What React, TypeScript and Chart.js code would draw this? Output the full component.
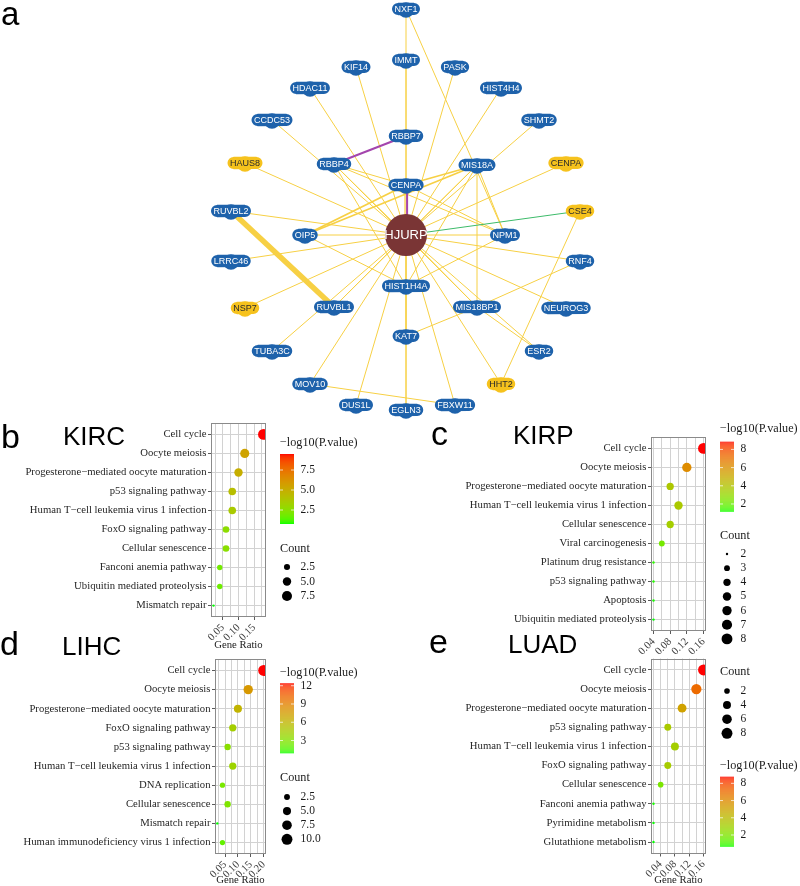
import React, { useEffect, useRef } from "react";
import { Chart, registerables } from "chart.js";
Chart.register(...registerables);

const SERIF = '"Liberation Serif", "Times New Roman", serif';
const SANS = '"Liberation Sans", Arial, sans-serif';

// ---------------- Panel a: interaction network ----------------
const netNodes = ["HJURP","NXF1","IMMT","KIF14","PASK","HDAC11","HIST4H4","CCDC53","SHMT2","RBBP7","HAUS8","RBBP4","MIS18A","CENPA_y","CENPA","RUVBL2","CSE4","OIP5","NPM1","LRRC46","RNF4","HIST1H4A","NSP7","RUVBL1","MIS18BP1","NEUROG3","KAT7","TUBA3C","ESR2","MOV10","HHT2","DUS1L","FBXW11","EGLN3"];
const netLabels = ["HJURP","NXF1","IMMT","KIF14","PASK","HDAC11","HIST4H4","CCDC53","SHMT2","RBBP7","HAUS8","RBBP4","MIS18A","CENPA","CENPA","RUVBL2","CSE4","OIP5","NPM1","LRRC46","RNF4","HIST1H4A","NSP7","RUVBL1","MIS18BP1","NEUROG3","KAT7","TUBA3C","ESR2","MOV10","HHT2","DUS1L","FBXW11","EGLN3"];
const netKinds = ["query","gene","gene","gene","gene","gene","gene","gene","gene","gene","attr","gene","gene","attr","gene","gene","attr","gene","gene","gene","gene","gene","attr","gene","gene","gene","gene","gene","gene","gene","attr","gene","gene","gene"];
// layout coordinates of the network
const netX = [406,406,406,356,455,310,501,272,539,406,245,334,477,566,406,231,580,305,505,231,580,406,245,334,477,566,406,272,539,310,501,356,455,406];
const netY = [235,9,60,67,67,88,88,120,120,136,163,164,165,163,185,211,211,235,235,261,261,286,308,307,307,308,336,351,351,384,384,405,405,410];

const hjurpLinks = ["IMMT","KIF14","PASK","HDAC11","HIST4H4","CCDC53","SHMT2","HAUS8","RBBP4","MIS18A","CENPA_y","CENPA","RUVBL2","OIP5","NPM1","LRRC46","RNF4","HIST1H4A","NSP7","RUVBL1","MIS18BP1","NEUROG3","KAT7","TUBA3C","ESR2","MOV10","HHT2","DUS1L","FBXW11","EGLN3"];
const extraA = ["NXF1","NXF1","IMMT","RBBP7","RBBP7","HJURP","HJURP","RBBP4","RBBP4","RBBP4","RBBP4","MIS18A","MIS18A","MIS18A","MIS18A","MIS18A","MIS18A","CENPA","CENPA","OIP5","RUVBL2","MOV10","HHT2","KAT7","KAT7","RNF4","ESR2","NPM1","HIST1H4A"];
const extraB = ["IMMT","NPM1","RBBP7","CENPA","RBBP4","CENPA","CSE4","CENPA","HIST1H4A","MIS18BP1","NPM1","CENPA","OIP5","MIS18BP1","HIST1H4A","RUVBL1","NPM1","OIP5","NPM1","HIST1H4A","RUVBL1","FBXW11","CSE4","MIS18BP1","EGLN3","MIS18BP1","MIS18BP1","HIST1H4A","KAT7"];
const extraKind = ["domain","domain","domain","domain","coexp","coexp","genetic","domain","domain","domain","domain","domain","domain","domain","domain","domain","domain","domain","domain","domain","domain","domain","domain","domain","domain","domain","domain","domain","domain"];
const extraWeight = [1,1,1,1,2,2,1,1,1,1,1,1.6,1.6,1,1,1,1,1.8,1,1,5.5,1,1,1,1,1,1,1,1];

// ---------------- Panel b: KIRC ----------------
const kircTerms = ["Cell cycle","Oocyte meiosis","Progesterone\u2212mediated oocyte maturation","p53 signaling pathway","Human T\u2212cell leukemia virus 1 infection","FoxO signaling pathway","Cellular senescence","Fanconi anemia pathway","Ubiquitin mediated proteolysis","Mismatch repair"];
const kircRatio = [0.18,0.12,0.10,0.08,0.08,0.06,0.06,0.04,0.04,0.02];
const kircCount = [9,6,5,4,4,3,3,2,2,1];
const kircLogP = [9.5,5.5,5.0,4.2,3.6,2.6,2.5,1.9,1.8,0.75];
const kircXMajor = [0.05,0.10,0.15];
const kircXMinor = [0.025,0.075,0.125,0.175];
const kircColorBreaks = [2.5,5.0,7.5];
const kircColorLabels = ["2.5","5.0","7.5"];
const kircSizeBreaks = [2.5,5.0,7.5];
const kircSizeLabels = ["2.5","5.0","7.5"];

// ---------------- Panel c: KIRP ----------------
const kirpTerms = ["Cell cycle","Oocyte meiosis","Progesterone\u2212mediated oocyte maturation","Human T\u2212cell leukemia virus 1 infection","Cellular senescence","Viral carcinogenesis","Platinum drug resistance","p53 signaling pathway","Apoptosis","Ubiquitin mediated proteolysis"];
const kirpRatio = [0.16,0.12,0.08,0.10,0.08,0.06,0.04,0.04,0.04,0.04];
const kirpCount = [8,6,4,5,4,3,2,2,2,2];
const kirpLogP = [8.85,6.2,3.8,3.7,3.5,2.2,1.3,1.25,1.2,1.15];
const kirpXMajor = [0.04,0.08,0.12,0.16];
const kirpXMinor = [0.06,0.10,0.14];
const kirpColorBreaks = [2,4,6,8];
const kirpColorLabels = ["2","4","6","8"];
const kirpSizeBreaks = [2,3,4,5,6,7,8];
const kirpSizeLabels = ["2","3","4","5","6","7","8"];

// ---------------- Panel d: LIHC ----------------
const lihcTerms = ["Cell cycle","Oocyte meiosis","Progesterone\u2212mediated oocyte maturation","FoxO signaling pathway","p53 signaling pathway","Human T\u2212cell leukemia virus 1 infection","DNA replication","Cellular senescence","Mismatch repair","Human immunodeficiency virus 1 infection"];
const lihcRatio = [0.20,0.14,0.10,0.08,0.06,0.08,0.04,0.06,0.02,0.04];
const lihcCount = [10,7,5,4,3,4,2,3,1,2];
const lihcLogP = [12.4,7.8,6.1,4.35,3.2,4.0,2.6,2.8,0.9,2.0];
const lihcXMajor = [0.05,0.10,0.15,0.20];
const lihcXMinor = [0.025,0.075,0.125,0.175];
const lihcColorBreaks = [3,6,9,12];
const lihcColorLabels = ["3","6","9","12"];
const lihcSizeBreaks = [2.5,5.0,7.5,10.0];
const lihcSizeLabels = ["2.5","5.0","7.5","10.0"];

// ---------------- Panel e: LUAD ----------------
const luadTerms = ["Cell cycle","Oocyte meiosis","Progesterone\u2212mediated oocyte maturation","p53 signaling pathway","Human T\u2212cell leukemia virus 1 infection","FoxO signaling pathway","Cellular senescence","Fanconi anemia pathway","Pyrimidine metabolism","Glutathione metabolism"];
const luadRatio = [0.16,0.14,0.10,0.06,0.08,0.06,0.04,0.02,0.02,0.02];
const luadCount = [8,7,5,3,4,3,2,1,1,1];
const luadLogP = [8.77,7.1,5.1,3.3,3.1,3.2,1.9,0.7,0.66,0.64];
const luadXMajor = [0.04,0.08,0.12,0.16];
const luadXMinor = [0.02,0.06,0.10,0.14];
const luadColorBreaks = [2,4,6,8];
const luadColorLabels = ["2","4","6","8"];
const luadSizeBreaks = [2,4,6,8];
const luadSizeLabels = ["2","4","6","8"];

// ---------------- colour helpers (CIELAB ramp green -> red) ----------------
function toLin(c: number) { c /= 255; return c <= 0.04045 ? c / 12.92 : Math.pow((c + 0.055) / 1.055, 2.4); }
function fromLin(c: number) { const v = c <= 0.0031308 ? 12.92 * c : 1.055 * Math.pow(Math.max(c, 0), 1 / 2.4) - 0.055; return Math.round(Math.max(0, Math.min(1, v)) * 255); }
function rgbToLab(rgb: number[]) {
  const R = toLin(rgb[0]), G = toLin(rgb[1]), B = toLin(rgb[2]);
  const X = (0.4124 * R + 0.3576 * G + 0.1805 * B) / 0.95047;
  const Y = 0.2126 * R + 0.7152 * G + 0.0722 * B;
  const Z = (0.0193 * R + 0.1192 * G + 0.9505 * B) / 1.08883;
  const f = (t: number) => (t > 0.008856 ? Math.cbrt(t) : 7.787 * t + 16 / 116);
  const fx = f(X), fy = f(Y), fz = f(Z);
  return [116 * fy - 16, 500 * (fx - fy), 200 * (fy - fz)];
}
function labToRgb(lab: number[]) {
  const fy = (lab[0] + 16) / 116, fx = fy + lab[1] / 500, fz = fy - lab[2] / 200;
  const inv = (t: number) => (t * t * t > 0.008856 ? t * t * t : (t - 16 / 116) / 7.787);
  const X = inv(fx) * 0.95047, Y = inv(fy), Z = inv(fz) * 1.08883;
  const R = 3.2406 * X - 1.5372 * Y - 0.4986 * Z;
  const G = -0.9689 * X + 1.8758 * Y + 0.0415 * Z;
  const B = 0.0557 * X - 0.204 * Y + 1.057 * Z;
  return [fromLin(R), fromLin(G), fromLin(B)];
}
const LAB_LOW = rgbToLab([0, 255, 0]);
const LAB_HIGH = rgbToLab([255, 0, 0]);
function ramp(t: number) {
  t = Math.max(0, Math.min(1, t));
  const lab = [0, 1, 2].map((k) => LAB_LOW[k] + (LAB_HIGH[k] - LAB_LOW[k]) * t);
  const c = labToRgb(lab);
  return `rgb(${c[0]},${c[1]},${c[2]})`;
}

const GRID = "#d2d2d2";
const TICKC = "#5a5a5a";
const BORDER = "#8a8a8a";

function buildPanel(spec: any) {
  const n = spec.terms.length;
  const vmin = Math.min(...spec.logp), vmax = Math.max(...spec.logp);
  const cmin = Math.min(...spec.count), cmax = Math.max(...spec.count);
  const colorOf = (v: number) => ramp((v - vmin) / (vmax - vmin));
  const radiusOf = (c: number) => 0.35 + 0.85 * (1 + 5 * Math.sqrt(Math.max(0, (c - cmin) / (cmax - cmin))));
  const isMajor = (v: number) => spec.xMajor.some((m: number) => Math.abs(m - v) < 1e-9);
  const allX = [...spec.xMajor, ...spec.xMinor].sort((a: number, b: number) => a - b);
  const L = spec.legend;

  const plugin = {
    id: "panelDecor" + spec.title,
    afterDatasetsDraw(chart: any) {
      const ctx = chart.ctx;
      const a = chart.chartArea;
      ctx.save();
      ctx.strokeStyle = BORDER;
      ctx.lineWidth = 1;
      ctx.strokeRect(Math.round(a.left) + 0.5, Math.round(a.top) + 0.5, Math.round(a.right - a.left) - 1, Math.round(a.bottom - a.top) - 1);
      ctx.restore();
    },
    afterDraw(chart: any) {
      const ctx = chart.ctx;
      const a = chart.chartArea;
      ctx.save();
      ctx.fillStyle = "#000";
      ctx.textBaseline = "alphabetic";
      ctx.textAlign = "left";
      ctx.font = `34px ${SANS}`;
      ctx.fillText(spec.letter, spec.letterPos[0], spec.letterPos[1]);
      ctx.font = `26px ${SANS}`;
      ctx.fillText(spec.title, spec.titlePos[0], spec.titlePos[1]);

      if (spec.geneTitleY != null) {
        ctx.font = `10.7px ${SERIF}`;
        ctx.textAlign = "center";
        ctx.textBaseline = "middle";
        ctx.fillStyle = "#1a1a1a";
        ctx.fillText("Gene Ratio", (a.left + a.right) / 2, spec.geneTitleY);
      }

      // colour bar legend
      ctx.textAlign = "left";
      ctx.textBaseline = "middle";
      ctx.fillStyle = "#1a1a1a";
      ctx.font = `12.2px ${SERIF}`;
      ctx.fillText("\u2212log10(P.value)", L.x, L.colorTitleY);
      const barH = 70, barW = 14;
      for (let i = 0; i < barH; i++) {
        const v = vmax - ((vmax - vmin) * (i + 0.5)) / barH;
        ctx.fillStyle = colorOf(v);
        ctx.fillRect(L.x, L.barTop + i, barW, 1);
      }
      ctx.font = `11.5px ${SERIF}`;
      spec.colorBreaks.forEach((b: number, i: number) => {
        const y = L.barTop + ((vmax - b) / (vmax - vmin)) * barH;
        ctx.strokeStyle = "rgba(255,255,255,0.9)";
        ctx.lineWidth = 0.8;
        ctx.beginPath();
        ctx.moveTo(L.x, y); ctx.lineTo(L.x + 3, y);
        ctx.moveTo(L.x + barW - 3, y); ctx.lineTo(L.x + barW, y);
        ctx.stroke();
        ctx.fillStyle = "#1a1a1a";
        ctx.fillText(spec.colorLabels[i], L.x + 20.5, y);
      });

      // size legend
      ctx.font = `12.2px ${SERIF}`;
      ctx.fillStyle = "#1a1a1a";
      ctx.fillText("Count", L.x, L.countTitleY);
      ctx.font = `11.5px ${SERIF}`;
      spec.sizeBreaks.forEach((s: number, i: number) => {
        const y = L.dotFirstY + i * L.dotStep;
        ctx.fillStyle = "#000";
        ctx.beginPath();
        ctx.arc(L.x + 7, y, radiusOf(s), 0, Math.PI * 2);
        ctx.fill();
        ctx.fillStyle = "#1a1a1a";
        ctx.fillText(spec.sizeLabels[i], L.x + 20.5, y);
      });
      ctx.restore();
    },
  };

  return {
    type: "scatter",
    data: {
      datasets: [
        {
          data: spec.ratio.map((r: number, i: number) => ({ x: r, y: i + 1 })),
          pointRadius: spec.count.map((c: number) => radiusOf(c)),
          pointHoverRadius: spec.count.map((c: number) => radiusOf(c)),
          pointBackgroundColor: spec.logp.map((v: number) => colorOf(v)),
          backgroundColor: spec.logp.map((v: number) => colorOf(v)),
          pointBorderWidth: 0,
          borderWidth: 0,
          pointBorderColor: "rgba(0,0,0,0)",
        },
      ],
    },
    options: {
      responsive: false,
      animation: false,
      events: [],
      layout: { padding: { left: 0, top: spec.area.t, right: spec.canvasW - spec.area.r, bottom: 0 } },
      plugins: { legend: { display: false }, tooltip: { enabled: false }, title: { display: false } },
      scales: {
        x: {
          type: "linear",
          position: "bottom",
          min: spec.xMin,
          max: spec.xMax,
          bounds: "data",
          afterBuildTicks: (s: any) => { s.ticks = allX.map((v: number) => ({ value: v })); },
          afterFit: (s: any) => { s.height = spec.canvasH - spec.area.b; },
          ticks: {
            autoSkip: false,
            minRotation: 45,
            maxRotation: 45,
            padding: 1.5,
            color: "#404040",
            font: { family: SERIF, size: 10.7 },
            callback: (v: number) => (isMajor(v) ? v.toFixed(2) : ""),
          },
          grid: {
            color: GRID,
            lineWidth: 1,
            tickLength: 3,
            tickColor: (c: any) => (c.tick && isMajor(c.tick.value) ? TICKC : "rgba(0,0,0,0)"),
          },
          border: { display: false },
        },
        y: {
          type: "linear",
          position: "left",
          min: 0.4,
          max: n + 0.6,
          reverse: true,
          bounds: "data",
          afterBuildTicks: (s: any) => { s.ticks = spec.terms.map((_: string, i: number) => ({ value: i + 1 })); },
          afterFit: (s: any) => { s.width = spec.area.l; },
          ticks: {
            autoSkip: false,
            padding: 1.5,
            color: "#262626",
            font: { family: SERIF, size: 10.7 },
            callback: (v: number) => spec.terms[Math.round(v) - 1] ?? "",
          },
          grid: { color: GRID, lineWidth: 1, tickLength: 3, tickColor: TICKC },
          border: { display: false },
        },
      },
    },
    plugins: [plugin],
  };
}

function buildNetwork() {
  const idx: Record<string, number> = {};
  netNodes.forEach((id, i) => (idx[id] = i));
  const edges: { a: number; b: number; kind: string; w: number }[] = [];
  hjurpLinks.forEach((id) => edges.push({ a: idx["HJURP"], b: idx[id], kind: "domain", w: 1 }));
  extraA.forEach((id, i) => edges.push({ a: idx[id], b: idx[extraB[i]], kind: extraKind[i], w: extraWeight[i] }));

  const plugin = {
    id: "networkDraw",
    afterDatasetsDraw(chart: any) {
      const ctx = chart.ctx;
      const xs = chart.scales.x, ys = chart.scales.y;
      const px = (i: number) => xs.getPixelForValue(netX[i]);
      const py = (i: number) => ys.getPixelForValue(netY[i]);
      ctx.save();
      const groups: Record<string, number[]> = {};
      edges.forEach((e, k) => {
        const key = [Math.min(e.a, e.b), Math.max(e.a, e.b)].join("-");
        (groups[key] = groups[key] || []).push(k);
      });
      const order = ["domain", "genetic", "coexp"];
      const colorFor: Record<string, string> = { domain: "#f7d044", coexp: "#a445ad", genetic: "#3dbb6a" };
      order.forEach((kind) => {
        edges.forEach((e, k) => {
          if (e.kind !== kind) return;
          const key = [Math.min(e.a, e.b), Math.max(e.a, e.b)].join("-");
          const g = groups[key];
          const pos = g.indexOf(k) - (g.length - 1) / 2;
          const x1 = px(e.a), y1 = py(e.a), x2 = px(e.b), y2 = py(e.b);
          const len = Math.hypot(x2 - x1, y2 - y1) || 1;
          const ox = (-(y2 - y1) / len) * pos * 2.2, oy = ((x2 - x1) / len) * pos * 2.2;
          ctx.strokeStyle = colorFor[kind];
          ctx.lineWidth = e.w;
          ctx.lineCap = "butt";
          ctx.beginPath();
          ctx.moveTo(x1 + ox, y1 + oy);
          ctx.lineTo(x2 + ox, y2 + oy);
          ctx.stroke();
        });
      });

      netNodes.forEach((id, i) => {
        const x = px(i), y = py(i);
        const kind = netKinds[i];
        if (kind === "query") {
          ctx.fillStyle = "#7a3535";
          ctx.beginPath();
          ctx.arc(x, y, 21, 0, Math.PI * 2);
          ctx.fill();
          ctx.fillStyle = "#ffffff";
          ctx.font = `13px ${SANS}`;
          ctx.textAlign = "center";
          ctx.textBaseline = "middle";
          ctx.fillText(netLabels[i], x, y + 0.5);
          return;
        }
        const fill = kind === "attr" ? "#f6c21d" : "#1e62ab";
        ctx.font = `9px ${SANS}`;
        const tw = ctx.measureText(netLabels[i]).width;
        const w = tw + 5, h = 12.5, r = 6;
        ctx.fillStyle = fill;
        ctx.beginPath();
        ctx.arc(x, y + 1, 7.8, 0, Math.PI * 2);
        ctx.fill();
        ctx.beginPath();
        ctx.moveTo(x - w / 2 + r, y - h / 2);
        ctx.lineTo(x + w / 2 - r, y - h / 2);
        ctx.arc(x + w / 2 - r, y, r, -Math.PI / 2, Math.PI / 2);
        ctx.lineTo(x - w / 2 + r, y + h / 2);
        ctx.arc(x - w / 2 + r, y, r, Math.PI / 2, (3 * Math.PI) / 2);
        ctx.closePath();
        ctx.fill();
        ctx.fillStyle = kind === "attr" ? "#2b2b2b" : "#ffffff";
        ctx.textAlign = "center";
        ctx.textBaseline = "middle";
        ctx.fillText(netLabels[i], x, y + 0.5);
      });

      ctx.fillStyle = "#000";
      ctx.font = `33px ${SANS}`;
      ctx.textAlign = "left";
      ctx.textBaseline = "alphabetic";
      ctx.fillText("a", 1, 25);
      ctx.restore();
    },
  };

  return {
    type: "scatter",
    data: { datasets: [{ data: netX.map((x, i) => ({ x, y: netY[i] })), pointRadius: 0 }] },
    options: {
      responsive: false,
      animation: false,
      events: [],
      layout: { padding: 0 },
      plugins: { legend: { display: false }, tooltip: { enabled: false } },
      scales: {
        x: { type: "linear", min: 0, max: 800, display: false },
        y: { type: "linear", min: 0, max: 420, reverse: true, display: false },
      },
    },
    plugins: [plugin],
  };
}

const kircSpec = {
  letter: "b", title: "KIRC", terms: kircTerms, ratio: kircRatio, count: kircCount, logp: kircLogP,
  xMajor: kircXMajor, xMinor: kircXMinor, xMin: 0.012, xMax: 0.188,
  colorBreaks: kircColorBreaks, colorLabels: kircColorLabels, sizeBreaks: kircSizeBreaks, sizeLabels: kircSizeLabels,
  canvasW: 400, canvasH: 250, area: { l: 211, r: 266, t: 23, b: 217 },
  letterPos: [1, 48], titlePos: [63, 45], geneTitleY: 245,
  legend: { x: 280, colorTitleY: 43, barTop: 54, countTitleY: 149, dotFirstY: 167, dotStep: 14.5 },
};
const kirpSpec = {
  letter: "c", title: "KIRP", terms: kirpTerms, ratio: kirpRatio, count: kirpCount, logp: kirpLogP,
  xMajor: kirpXMajor, xMinor: kirpXMinor, xMin: 0.034, xMax: 0.166,
  colorBreaks: kirpColorBreaks, colorLabels: kirpColorLabels, sizeBreaks: kirpSizeBreaks, sizeLabels: kirpSizeLabels,
  canvasW: 400, canvasH: 256, area: { l: 251, r: 306, t: 37, b: 231 },
  letterPos: [31, 45], titlePos: [113, 44], geneTitleY: null,
  legend: { x: 320, colorTitleY: 29, barTop: 41.7, countTitleY: 136, dotFirstY: 154, dotStep: 14.15 },
};
const lihcSpec = {
  letter: "d", title: "LIHC", terms: lihcTerms, ratio: lihcRatio, count: lihcCount, logp: lihcLogP,
  xMajor: lihcXMajor, xMinor: lihcXMinor, xMin: 0.011, xMax: 0.209,
  colorBreaks: lihcColorBreaks, colorLabels: lihcColorLabels, sizeBreaks: lihcSizeBreaks, sizeLabels: lihcSizeLabels,
  canvasW: 400, canvasH: 266, area: { l: 215, r: 266, t: 39, b: 234 },
  letterPos: [0, 35], titlePos: [62, 35], geneTitleY: 260,
  legend: { x: 280, colorTitleY: 52.7, barTop: 63.3, countTitleY: 158, dotFirstY: 177, dotStep: 14.1 },
};
const luadSpec = {
  letter: "e", title: "LUAD", terms: luadTerms, ratio: luadRatio, count: luadCount, logp: luadLogP,
  xMajor: luadXMajor, xMinor: luadXMinor, xMin: 0.013, xMax: 0.167,
  colorBreaks: luadColorBreaks, colorLabels: luadColorLabels, sizeBreaks: luadSizeBreaks, sizeLabels: luadSizeLabels,
  canvasW: 400, canvasH: 266, area: { l: 251, r: 306, t: 38.5, b: 233.5 },
  letterPos: [29, 33], titlePos: [108, 33], geneTitleY: 260,
  legend: { x: 320, colorTitleY: 145.7, barTop: 156.7, countTitleY: 52.3, dotFirstY: 71, dotStep: 14.1 },
};

function ChartCanvas(props: { left: number; top: number; width: number; height: number; build: () => any }) {
  const ref = useRef<HTMLCanvasElement>(null);
  useEffect(() => {
    const chart = new Chart(ref.current as HTMLCanvasElement, props.build());
    return () => chart.destroy();
  }, []);
  return (
    <canvas
      ref={ref}
      width={props.width}
      height={props.height}
      style={{ position: "absolute", left: props.left, top: props.top, width: props.width, height: props.height }}
    />
  );
}

export default function App() {
  return (
    <div style={{ position: "absolute", left: 0, top: 0, width: 800, height: 886, background: "#ffffff", overflow: "hidden" }}>
      <ChartCanvas left={0} top={0} width={800} height={420} build={buildNetwork} />
      <ChartCanvas left={0} top={400} width={400} height={250} build={() => buildPanel(kircSpec)} />
      <ChartCanvas left={400} top={400} width={400} height={256} build={() => buildPanel(kirpSpec)} />
      <ChartCanvas left={0} top={620} width={400} height={266} build={() => buildPanel(lihcSpec)} />
      <ChartCanvas left={400} top={620} width={400} height={266} build={() => buildPanel(luadSpec)} />
    </div>
  );
}
